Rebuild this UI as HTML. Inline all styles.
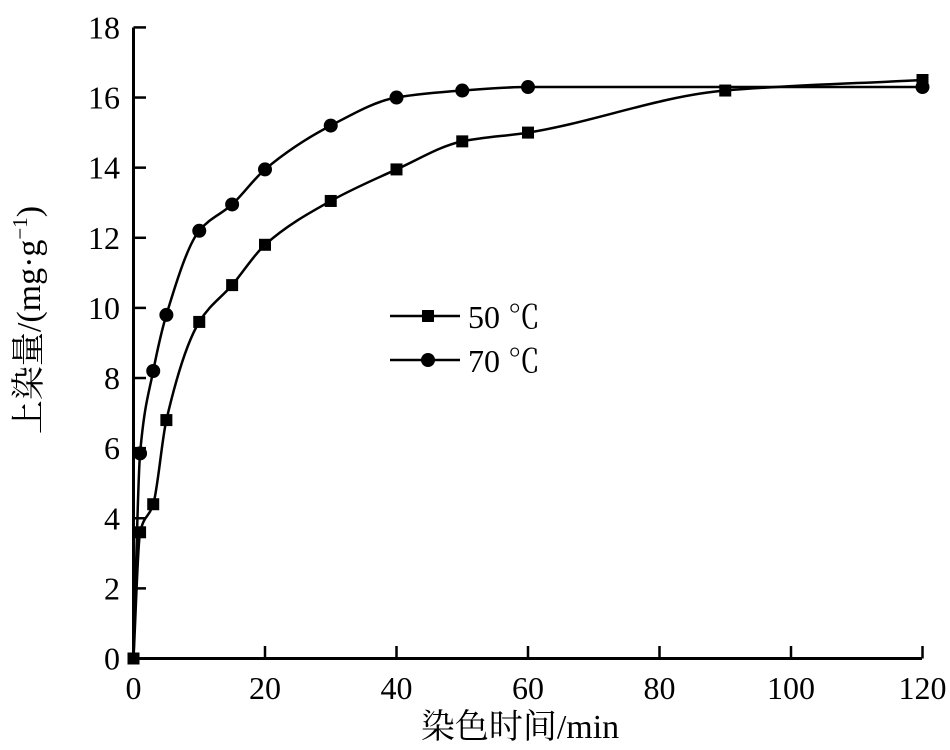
<!DOCTYPE html>
<html><head><meta charset="utf-8"><style>
body{margin:0;background:#fff;}
svg{display:block;font-family:"Liberation Serif","Noto Serif CJK SC",serif;}
</style></head><body>
<svg id="s" width="950" height="750" xmlns="http://www.w3.org/2000/svg">
<g stroke="#000" stroke-width="3" fill="none">
<line x1="133.5" y1="27.5" x2="133.5" y2="659"/>
<line x1="132" y1="658.5" x2="922" y2="658.5"/>
</g>
<g id="ticks" stroke="#000" stroke-width="2.5"></g>
<g id="lbl" font-size="32" fill="#000"></g>
<text x="520" y="738" font-size="34" text-anchor="middle">染色时间/min</text>
<text transform="translate(40,320) rotate(-90)" font-size="34" text-anchor="middle">上染量/(mg·g<tspan dy="-13" font-size="21">−1</tspan><tspan dy="13">)</tspan></text>
<g id="series"></g>
<line x1="390" y1="316" x2="460" y2="316" stroke="#000" stroke-width="2.5"/>
<rect x="422" y="310" width="12" height="12" fill="#000"/>
<text x="468" y="328" font-size="32">50 ℃</text>
<line x1="390" y1="360" x2="460" y2="360" stroke="#000" stroke-width="2.5"/>
<circle cx="428" cy="360" r="7" fill="#000"/>
<text x="468" y="372" font-size="32">70 ℃</text>
</svg>
<script>
var NS="http://www.w3.org/2000/svg";
function X(v){return 133.5+v*6.575;}
function Y(v){return 658.5-v*35.06;}
function el(t,a,p){var e=document.createElementNS(NS,t);for(var k in a)e.setAttribute(k,a[k]);if(p)p.appendChild(e);return e;}
var tk=document.getElementById('ticks'),lb=document.getElementById('lbl');
for(var v=0;v<=18;v+=2){var y=Y(v);el('line',{x1:133.5,y1:y,x2:146,y2:y},tk);var t=el('text',{x:120,y:y+11,'text-anchor':'end'},lb);t.textContent=v;}
for(var v=0;v<=120;v+=20){var x=X(v);el('line',{x1:x,y1:658.5,x2:x,y2:646},tk);var t=el('text',{x:x,y:699,'text-anchor':'middle'},lb);t.textContent=v;}
function path(pts){var n=pts.length,xs=pts.map(p=>p[0]),ys=pts.map(p=>p[1]),d=[],m=[];
for(var i=0;i<n-1;i++)d.push((ys[i+1]-ys[i])/(xs[i+1]-xs[i]));
m[0]=d[0];m[n-1]=d[n-2];
for(var i=1;i<n-1;i++){if(d[i-1]*d[i]<=0)m[i]=0;else{var w1=2*(xs[i+1]-xs[i])+(xs[i]-xs[i-1]),w2=(xs[i+1]-xs[i])+2*(xs[i]-xs[i-1]);m[i]=(w1+w2)/(w1/d[i-1]+w2/d[i]);}}
var s="M"+X(xs[0])+","+Y(ys[0]);
for(var i=0;i<n-1;i++){var h=xs[i+1]-xs[i];
s+=" C"+X(xs[i]+h/3)+","+Y(ys[i]+m[i]*h/3)+" "+X(xs[i+1]-h/3)+","+Y(ys[i+1]-m[i+1]*h/3)+" "+X(xs[i+1])+","+Y(ys[i+1]);}
return s;}
var s=document.getElementById('series');
var a=[[0,0],[1,3.6],[3,4.4],[5,6.8],[10,9.6],[15,10.65],[20,11.8],[30,13.05],[40,13.95],[50,14.75],[60,15.0],[90,16.2],[120,16.5]];
var b=[[0,0],[1,5.85],[3,8.2],[5,9.8],[10,12.2],[15,12.95],[20,13.95],[30,15.2],[40,16.0],[50,16.2],[60,16.3],[120,16.3]];
el('path',{d:path(a),stroke:'#000','stroke-width':2.5,fill:'none'},s);
el('path',{d:path(b),stroke:'#000','stroke-width':2.5,fill:'none'},s);
a.forEach(function(p){el('rect',{x:X(p[0])-6,y:Y(p[1])-6,width:12,height:12,fill:'#000'},s);});
b.slice(1).forEach(function(p){el('circle',{cx:X(p[0]),cy:Y(p[1]),r:7,fill:'#000'},s);});
</script>
</body></html>
